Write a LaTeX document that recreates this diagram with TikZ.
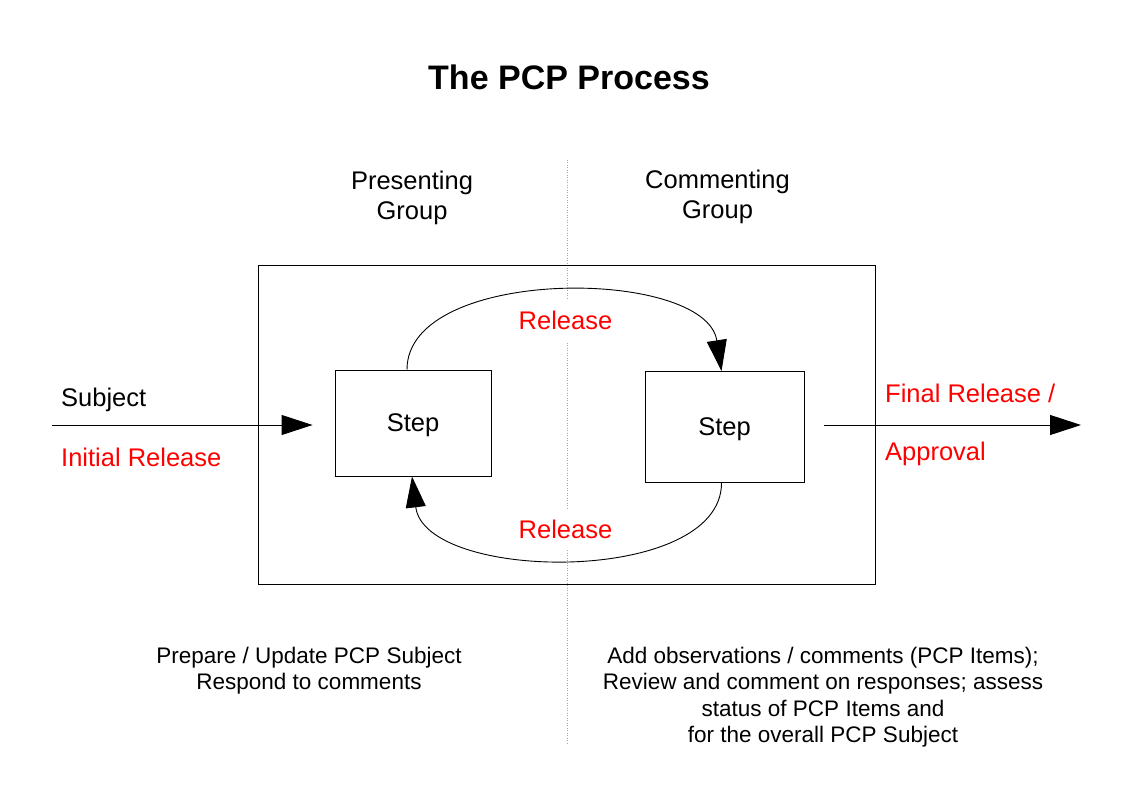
\documentclass[tikz,border=0pt]{standalone}
\usepackage{fontspec}
\setmainfont{Liberation Sans}
\usetikzlibrary{arrows.meta,calc,positioning}
\definecolor{relred}{RGB}{255,0,0}
\tikzset{
  flow/.style={-{Triangle[length=31pt,width=20pt]}, line width=0.9pt},
  stepbox/.style={draw, line width=0.9pt, minimum width=156pt, minimum height=106pt,
    inner sep=0pt, text depth=0pt, font=\fontsize{25.5}{29.5}\selectfont},
  label/.style={inner sep=0pt, align=center, font=\fontsize{25.5}{29.5}\selectfont},
  release/.style={label, text=relred, fill=white, inner xsep=3pt, inner ysep=11pt},
  note/.style={inner sep=0pt, align=center, font=\fontsize{22.5}{26.5}\selectfont},
  divider/.style={gray!70, line width=0.7pt, dash pattern=on 1pt off 1.5pt},
}
\begin{document}
\begin{tikzpicture}[x=1pt, y=-1pt]
  \useasboundingbox (0,0) rectangle (1123,794);

  % Title
  \node[anchor=base, inner sep=0pt, font=\bfseries\fontsize{34}{40}\selectfont] (title) at (569,90) {The PCP Process};

  % Divider between the groups
  \coordinate (divtop) at (567,160);
  \coordinate (divbot) at (567,745);
  \draw[divider] (divtop) -- (divbot);

  % Groups (base is the last line)
  \node[label, anchor=base] (present) at (412,219.5) {Presenting\\Group};
  \node[label, anchor=base] (comment) at (717.5,218.5) {Commenting\\Group};

  % Frame and steps
  \node[draw, line width=0.9pt, minimum width=617pt, minimum height=319pt, inner sep=0pt] (frame) at (566.5,424.5) {};
  \node[stepbox] (stepL) at (413,423) {Step};
  \node[stepbox, minimum width=159pt, minimum height=111pt] (stepR) at (724.5,427) {Step};

  % Release loop
  \node[release, anchor=base] (relTop) at (565.5,329.3) {Release};
  \node[release, anchor=base] (relBot) at (565.5,538.3) {Release};
  \draw[flow] ([xshift=-6pt]stepL.north) .. controls +(0,-104) and +(-16,-104) .. ([xshift=-3pt]stepR.north);
  \draw[flow] ([xshift=-3pt]stepR.south) .. controls +(0,103) and +(13,106) .. ([xshift=-1pt]stepL.south);

  % In and out
  \coordinate (in) at (52,425);
  \coordinate (out) at (1081,425);
  \draw[flow, shorten >=22pt] (in) -- (in -| stepL.west);
  \draw[flow, shorten <=20pt] (out -| stepR.east) -- (out);
  \node[label, anchor=base west] (subject) at (61,406) {Subject};
  \node[label, anchor=base west, text=relred] (initial) at (61,466) {Initial Release};
  \node[label, anchor=base west, text=relred] (final) at (885,402) {Final Release /};
  \node[label, anchor=base west, text=relred] (approval) at (885,460) {Approval};

  % Tasks
  \node[note, anchor=base] (presentTasks) at (309,689.5) {Prepare / Update PCP Subject\\Respond to comments};
  \node[note, anchor=base] (commentTasks) at (823,742.5) {Add observations / comments (PCP Items);\\Review and comment on responses; assess\\status of PCP Items and\\for the overall PCP Subject};
\end{tikzpicture}
\end{document}
